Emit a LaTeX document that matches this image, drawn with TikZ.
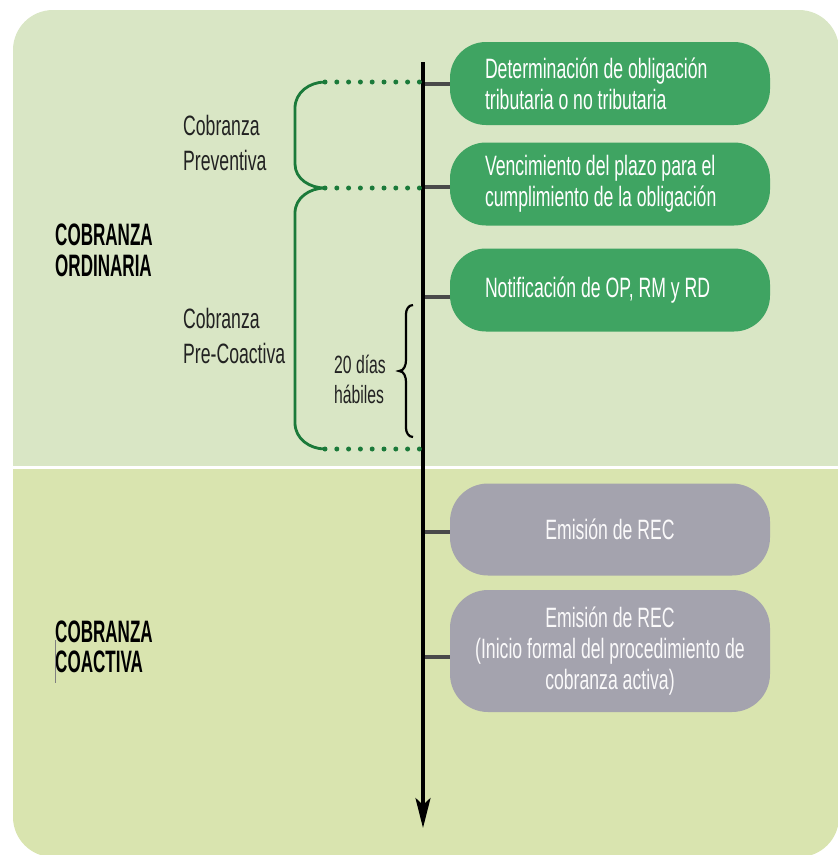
\documentclass[tikz,border=0pt]{standalone}
\usepackage{fontspec}
\setmainfont{Liberation Sans}[FakeStretch=0.63]
\newfontfamily\headfont{Liberation Sans}[FakeStretch=0.55]
\usetikzlibrary{arrows.meta,calc}
\definecolor{bgtop}{HTML}{D9E6C5}
\definecolor{bgbot}{HTML}{D9E4AF}
\definecolor{boxgreen}{HTML}{3FA462}
\definecolor{boxgray}{HTML}{A4A3AE}
\definecolor{stubgray}{HTML}{4A4A4A}
\definecolor{darkgreen}{HTML}{1B7A3A}
\definecolor{labeltext}{HTML}{222222}
\tikzset{
  natspace/.style={execute at begin node={\spaceskip=0pt\xspaceskip=0pt\relax}},
  gbox/.style={fill=boxgreen, rounded corners=36pt, minimum width=320pt, minimum height=83pt,
    text width=250pt, align=left, inner sep=0pt, text=white, font=\fontsize{28}{31}\selectfont, natspace},
  graybox/.style={fill=boxgray, rounded corners=38pt, minimum width=320pt,
    align=center, inner sep=0pt, text=white!94!boxgray, font=\fontsize{28}{31}\selectfont, natspace},
  stub/.style={draw=stubgray, line width=4pt},
  axis/.style={draw=black, line width=3.5pt, -{Stealth[length=30pt,width=15pt,inset=7pt]}},
  dotline/.style={draw=darkgreen, line width=5pt, line cap=round, dash pattern=on 0pt off 11.8pt},
  gbrace/.style={draw=darkgreen, line width=2.8pt},
  kbrace/.style={draw=black, line width=2.2pt},
  lbl/.style={anchor=base west, inner sep=0pt, text=labeltext, font=\fontsize{28}{31}\selectfont},
  small/.style={anchor=base west, inner sep=0pt, text=labeltext, font=\fontsize{25}{28}\selectfont},
  head/.style={anchor=base west, inner sep=0pt, text=black, font=\headfont\bfseries\fontsize{31}{31}\selectfont}
}
\begin{document}
\begin{tikzpicture}[x=1pt,y=-1pt]
\useasboundingbox (0,0) rectangle (838,855);
% background
\begin{scope}
  \clip[rounded corners=40pt] (13,10) rectangle (839,857);
  \fill[bgtop] (0,0) rectangle (850,467);
  \fill[bgbot] (0,467) rectangle (850,860);
  \draw[white, line width=3pt] (0,467.5) -- (850,467.5);
\end{scope}
% boxes
\node[gbox] (b1) at (610,83.5) {Determinación de obligación\\tributaria o no tributaria};
\node[gbox] (b2) at (610,184) {Vencimiento del plazo para el\\cumplimiento de la obligación};
\node[gbox] (b3) at (610,290) {Notificación de OP, RM y RD};
\node[graybox, minimum height=92pt] (g1) at (610,529.5) {Emisión de REC};
\node[graybox, minimum height=122pt] (g2) at (610,651) {Emisión de REC\\(Inicio formal del procedimiento de\\cobranza activa)};
% timeline axis
\coordinate (ax0) at (423,62);
\coordinate (ax1) at (423,828);
% stubs
\draw[stub] (ax0 |- b1.west) -- (b1.west);
\draw[stub] ($(ax0 |- b2.west)+(0,3)$) -- ($(b2.west)+(0,3)$);
\draw[stub] ($(ax0 |- b3.west)+(0,7)$) -- ($(b3.west)+(0,7)$);
\draw[stub] ($(ax0 |- g1.west)+(0,2)$) -- ($(g1.west)+(0,2)$);
\draw[stub] ($(ax0 |- g2.west)+(0,6)$) -- ($(g2.west)+(0,6)$);
\draw[axis] (ax0) -- (ax1);
% dotted guide lines
\coordinate (p1) at (325,82);
\coordinate (p2) at (325,188);
\coordinate (p3) at (325,449);
\coordinate (q1) at (420,82);
\coordinate (q2) at (420,188);
\coordinate (q3) at (420,449);
\draw[dotline] (p1) -- (q1);
\draw[dotline] (p2) -- (q2);
\draw[dotline] (p3) -- (q3);
% green brackets
\draw[gbrace] (p1) to[out=180,in=90] (295,108) -- (295,164) to[out=-90,in=180] (p2)
  to[out=180,in=90] (295,213) -- (295,423) to[out=-90,in=180] (p3);
% black brace
\coordinate (k1) at (413,305);
\coordinate (k2) at (413,437);
\draw[kbrace] (k1) to[out=180,in=90] (406,314) -- (406,360) to[out=-90,in=0] (399,371)
  to[out=0,in=90] (406,382) -- (406,428) to[out=-90,in=180] (k2);
% labels
\node[lbl] (l1a) at (183,135) {Cobranza};
\node[lbl] (l1b) at (183,170) {Preventiva};
\node[lbl] (l2a) at (183,328) {Cobranza};
\node[lbl] (l2b) at (183,363) {Pre-Coactiva};
\node[small] (d1) at (334,373) {20 días};
\node[small] (d2) at (334,403) {hábiles};
\node[head] (h1a) at (55,245) {COBRANZA};
\node[head] (h1b) at (55,276) {ORDINARIA};
\node[head] (h2a) at (55,642) {COBRANZA};
\node[head] (h2b) at (55,672) {COACTIVA};
\draw[gray, line width=1pt] (55,640) -- (55,683);
\end{tikzpicture}
\end{document}
